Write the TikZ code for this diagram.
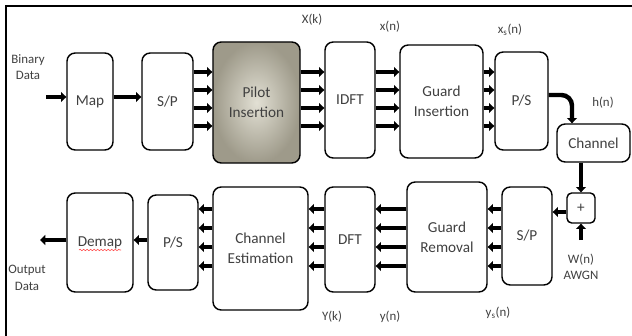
\documentclass[tikz,border=0pt]{standalone}
\usepackage{fontspec}
\setmainfont{Carlito}
\usetikzlibrary{arrows.meta,decorations.pathmorphing}

\tikzset{
  blk/.style={draw, rounded corners=7pt, line width=1.2pt, align=center,
    font=\fontsize{13}{17}\selectfont, text=black!75},
  lbl/.style={font=\fontsize{11}{14}\selectfont, text=black!75, align=center},
  bus/.style={line width=3.8pt, -{Triangle[length=4.5pt,width=8.5pt]}},
  sarr/.style={line width=3.8pt, -{Triangle[length=4.5pt,width=8.5pt]}},
}

\begin{document}
\begin{tikzpicture}[x=0.03cm, y=-0.03cm]
    \useasboundingbox (0,0) rectangle (632,336);
    % frame
    \draw[line width=2.2pt] (6,336) -- (6,6) -- (632,6);

    % transmitter
    \node[blk, minimum width=1.38cm, minimum height=2.91cm] (map) at (90,101.5) {Map};
    \node[blk, minimum width=1.53cm, minimum height=2.91cm] (sp1) at (167.5,101.5) {S/P};
    \node[blk, minimum width=2.61cm, minimum height=3.63cm, shading=radial,
      inner color={rgb,255:red,226;green,224;blue,212},
      outer color={rgb,255:red,158;green,154;blue,138}] (pilot) at (256.5,102.5) {Pilot\\Insertion};
    \node[blk, minimum width=1.5cm, minimum height=3.48cm] (idft) at (350,100) {IDFT};
    \node[blk, minimum width=2.49cm, minimum height=3.39cm] (gins) at (441.5,101.5) {Guard\\Insertion};
    \node[blk, minimum width=1.59cm, minimum height=2.94cm] (ps1) at (521.5,101) {P/S};
    \node[blk, minimum width=2.19cm, minimum height=1.14cm] (chan) at (593.5,143) {Channel};

    % receiver
    \node[blk, minimum width=1.98cm, minimum height=2.97cm] (demap) at (100,242.5) {Demap};
    \node[blk, minimum width=1.5cm, minimum height=2.85cm] (ps2) at (173,242.5) {P/S};
    \node[blk, minimum width=2.85cm, minimum height=3.69cm] (chest) at (260.5,248.5) {Channel\\Estimation};
    \node[blk, minimum width=1.5cm, minimum height=3.15cm] (dft) at (350,239.5) {DFT};
    \node[blk, minimum width=2.4cm, minimum height=3.3cm] (grem) at (447,237) {Guard\\Removal};
    \node[blk, minimum width=1.5cm, minimum height=2.94cm] (sp2) at (527,236) {S/P};
    \node[blk, rounded corners=4pt, minimum width=0.84cm, minimum height=0.9cm] (plus) at (581,208) {+};

    % spell-check underline
    \draw[red!70, line width=0.5pt, decorate, decoration={snake, amplitude=0.6pt, segment length=3pt}]
      (79,250) -- (121,250);

    % labels
    \node[lbl] (bin) at (28,67) {Binary\\Data};
    \node[lbl] (out) at (27,278) {Output\\Data};
    \node[lbl] (Xk) at (312,20) {X(k)};
    \node[lbl] (xn) at (390,27) {x(n)};
    \node[lbl] (xsn) at (510,30) {x\textsubscript{s}(n)};
    \node[lbl] (hn) at (603,103) {h(n)};
    \node[lbl] (Yk) at (332,317) {Y(k)};
    \node[lbl] (yn) at (390,317) {y(n)};
    \node[lbl] (ysn) at (498,313) {y\textsubscript{s}(n)};
    \node[lbl] (awgn) at (581,267) {W(n)\\AWGN};
    \coordinate (bin-in) at (46,97);
    \coordinate (out-end) at (40,240);
    \coordinate (wn) at (581,240);

    % single arrows
    \draw[sarr] (bin-in) -- (map.west |- bin-in);
    \draw[sarr] (map.east |- 0,97) -- (sp1.west |- 0,97);
    \draw[sarr] (ps2.west |- 0,240) -- (demap.east |- 0,240);
    \draw[sarr] (demap.west |- out-end) -- (out-end);
    \draw[sarr, rounded corners=9pt] (ps1.east |- 0,95) -| (572,0 |- chan.north);
    \draw[sarr] (plus.north |- chan.south) -- (plus.north);
    \draw[sarr] (wn) -- (plus.south);
    \draw[sarr] (plus.west |- 0,212) -- (sp2.east |- 0,212);

    % parallel buses
    \foreach \y in {72,90,108,126} {
      \draw[bus] (sp1.east |- 0,\y) -- (pilot.west |- 0,\y);
      \draw[bus] (pilot.east |- 0,\y) -- (idft.west |- 0,\y);
      \draw[bus] (idft.east |- 0,\y) -- (gins.west |- 0,\y);
      \draw[bus] (gins.east |- 0,\y) -- (ps1.west |- 0,\y);
    }
    \foreach \y in {209,228,247,266} {
      \draw[bus] (sp2.west |- 0,\y) -- (grem.east |- 0,\y);
      \draw[bus] (grem.west |- 0,\y) -- (dft.east |- 0,\y);
      \draw[bus] (dft.west |- 0,\y) -- (chest.east |- 0,\y);
      \draw[bus] (chest.west |- 0,\y) -- (ps2.east |- 0,\y);
    }
\end{tikzpicture}
\end{document}
